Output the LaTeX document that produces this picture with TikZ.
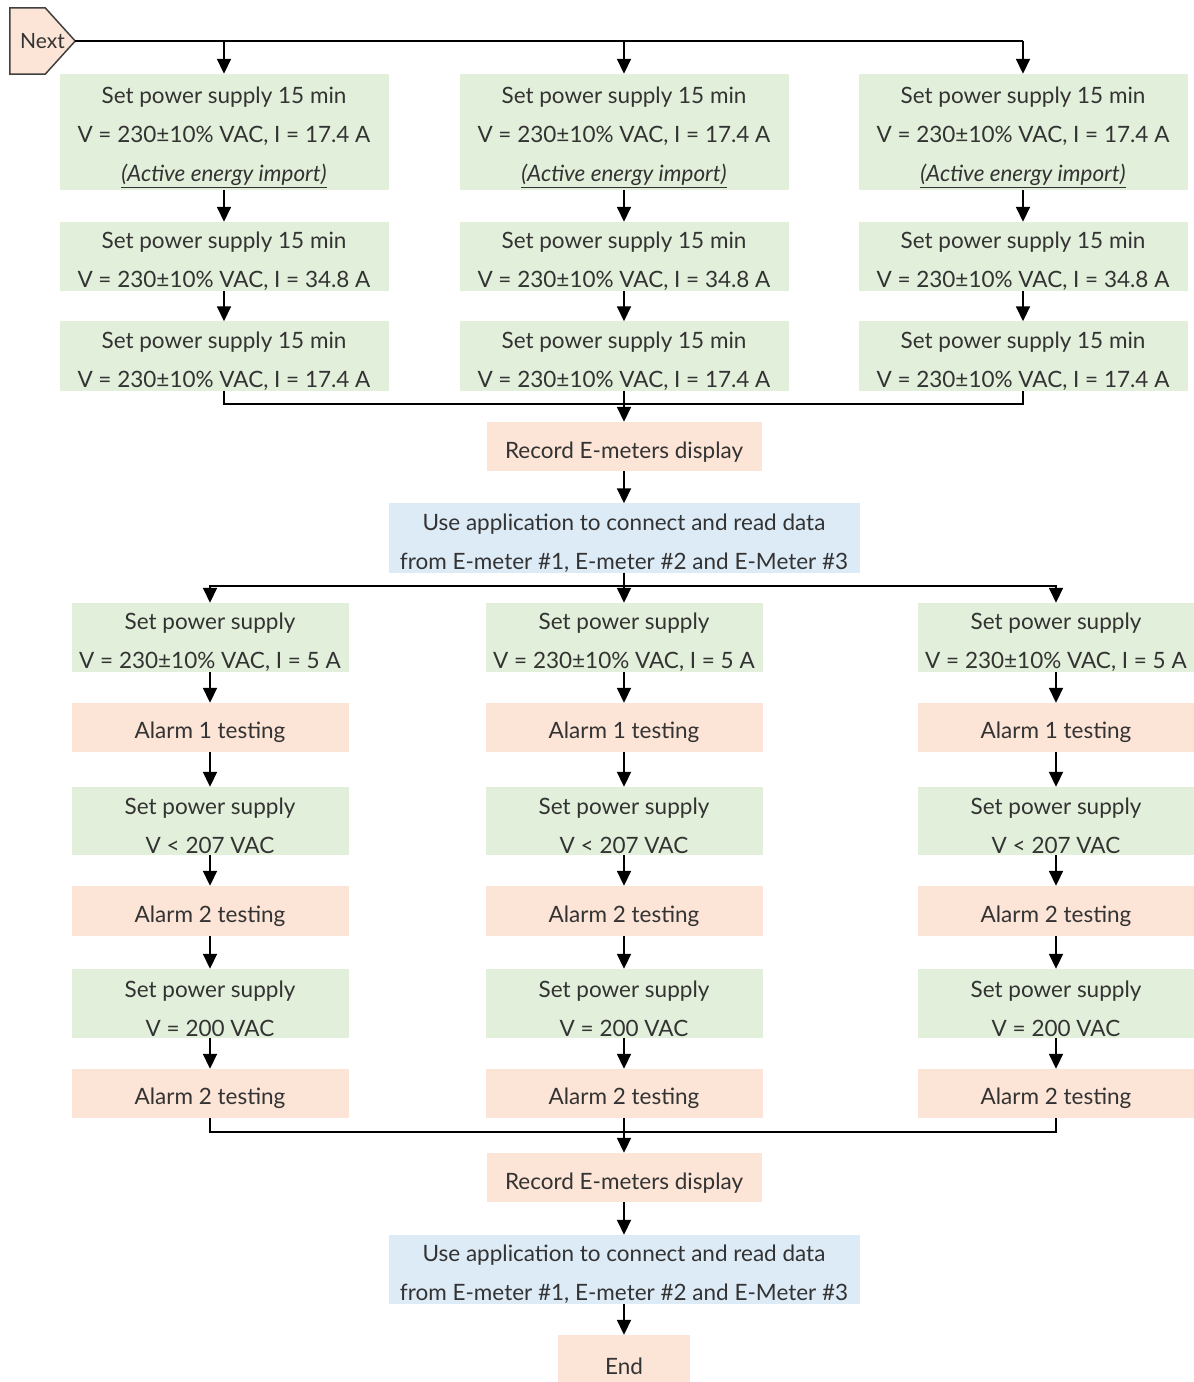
\documentclass[tikz,border=0pt]{standalone}
\usepackage{fontspec}
\setmainfont{Lato}
\usetikzlibrary{arrows.meta,backgrounds}
\definecolor{gbox}{RGB}{226,239,218}
\definecolor{pbox}{RGB}{252,228,214}
\definecolor{bbox}{RGB}{221,235,247}
\definecolor{txt}{RGB}{51,51,51}
\newcommand{\fl}{\rule{0pt}{27pt}}
\begin{document}
\begin{tikzpicture}[x=1pt,y=-1pt,
  box/.style={rectangle, inner sep=0pt, align=center, text=txt, font=\fontsize{22.5}{39}\selectfont},
  gstep/.style={box, fill=gbox},
  pstep/.style={box, fill=pbox},
  bstep/.style={box, fill=bbox},
  topw/.style={minimum width=329pt},
  loww/.style={minimum width=277pt},
  arr/.style={line width=1.8pt, -{Triangle[width=14pt,length=15pt]}},
  ln/.style={line width=1.8pt}]
\useasboundingbox (0,0) rectangle (1194,1382);

% Start
\node[rectangle, minimum width=65pt, minimum height=66pt, inner sep=0pt, text=txt,
  font=\fontsize{21}{24}\selectfont] (next) at (42.5,41) {Next};
\begin{scope}[on background layer]
\draw[fill=pbox, draw=black!75, line width=1.5pt, line join=miter]
  (next.north west) -- ([xshift=-30pt]next.north east) -- (next.east)
  -- ([xshift=-30pt]next.south east) -- (next.south west) -- cycle;
\end{scope}

% Top columns
\foreach \n/\x in {1/224,2/624,3/1023}{
  \node[gstep, topw, minimum height=116pt] (a\n) at (\x,132)
    {\fl Set power supply 15 min\\V = 230±10\% VAC, I = 17.4 A\\\underline{\textit{(Active energy import)}}};
  \node[gstep, topw, minimum height=69pt] (b\n) at (\x,256.5)
    {\fl Set power supply 15 min\\V = 230±10\% VAC, I = 34.8 A};
  \node[gstep, topw, minimum height=68pt] (c\n) at (\x,356)
    {\fl Set power supply 15 min\\V = 230±10\% VAC, I = 17.4 A};
  \draw[arr] (a\n.south) -- (b\n.north);
  \draw[arr] (b\n.south) -- (c\n.north);
}
\draw[ln] (next.east) -- (a3.north |- next.east);
\draw[arr] (a1.north |- next.east) -- (a1.north);
\draw[arr] (a2.north |- next.east) -- (a2.north);
\draw[arr] (a3.north |- next.east) -- (a3.north);

\node[pstep, minimum width=275pt, minimum height=49pt] (rec1) at (624,446.5) {\fl Record E-meters display};
\node[bstep, minimum width=471pt, minimum height=68pt] (use1) at (624,538)
  {\fl Use application to connect and read data\\from E-meter \#1, E-meter \#2 and E-Meter \#3};
\coordinate (m1) at (624,404);
\draw[ln] (c1.south) |- (m1) -| (c3.south);
\draw[arr] (c2.south) -- (rec1.north);
\draw[arr] (rec1.south) -- (use1.north);

% Lower columns
\foreach \n/\x in {1/210,2/624,3/1056}{
  \node[gstep, loww, minimum height=69pt] (l1\n) at (\x,637.5) {\fl Set power supply\\V = 230±10\% VAC, I = 5 A};
  \node[pstep, loww, minimum height=49pt] (l2\n) at (\x,727.5) {\fl Alarm 1 testing};
  \node[gstep, loww, minimum height=68pt] (l3\n) at (\x,821) {\fl Set power supply\\V < 207 VAC};
  \node[pstep, loww, minimum height=50pt] (l4\n) at (\x,911) {\fl Alarm 2 testing};
  \node[gstep, loww, minimum height=69pt] (l5\n) at (\x,1003.5) {\fl Set power supply\\V = 200 VAC};
  \node[pstep, loww, minimum height=49pt] (l6\n) at (\x,1093.5) {\fl Alarm 2 testing};
  \draw[arr] (l1\n.south) -- (l2\n.north);
  \draw[arr] (l2\n.south) -- (l3\n.north);
  \draw[arr] (l3\n.south) -- (l4\n.north);
  \draw[arr] (l4\n.south) -- (l5\n.north);
  \draw[arr] (l5\n.south) -- (l6\n.north);
}
\coordinate (s1) at (624,586);
\draw[ln] (use1.south) -- (s1);
\draw[arr] (s1) -| (l11.north);
\draw[arr] (s1) -| (l13.north);
\draw[arr] (use1.south) -- (l12.north);

\node[pstep, minimum width=275pt, minimum height=49pt] (rec2) at (624,1177.5) {\fl Record E-meters display};
\node[bstep, minimum width=471pt, minimum height=67pt] (use2) at (624,1269.5)
  {\fl Use application to connect and read data\\from E-meter \#1, E-meter \#2 and E-Meter \#3};
\node[pstep, minimum width=132pt, minimum height=52pt] (end) at (624,1361) {\fl End};
\coordinate (m2) at (624,1132);
\draw[ln] (l61.south) |- (m2) -| (l63.south);
\draw[arr] (l62.south) -- (rec2.north);
\draw[arr] (rec2.south) -- (use2.north);
\draw[arr] (use2.south) -- (end.north);
\end{tikzpicture}
\end{document}
